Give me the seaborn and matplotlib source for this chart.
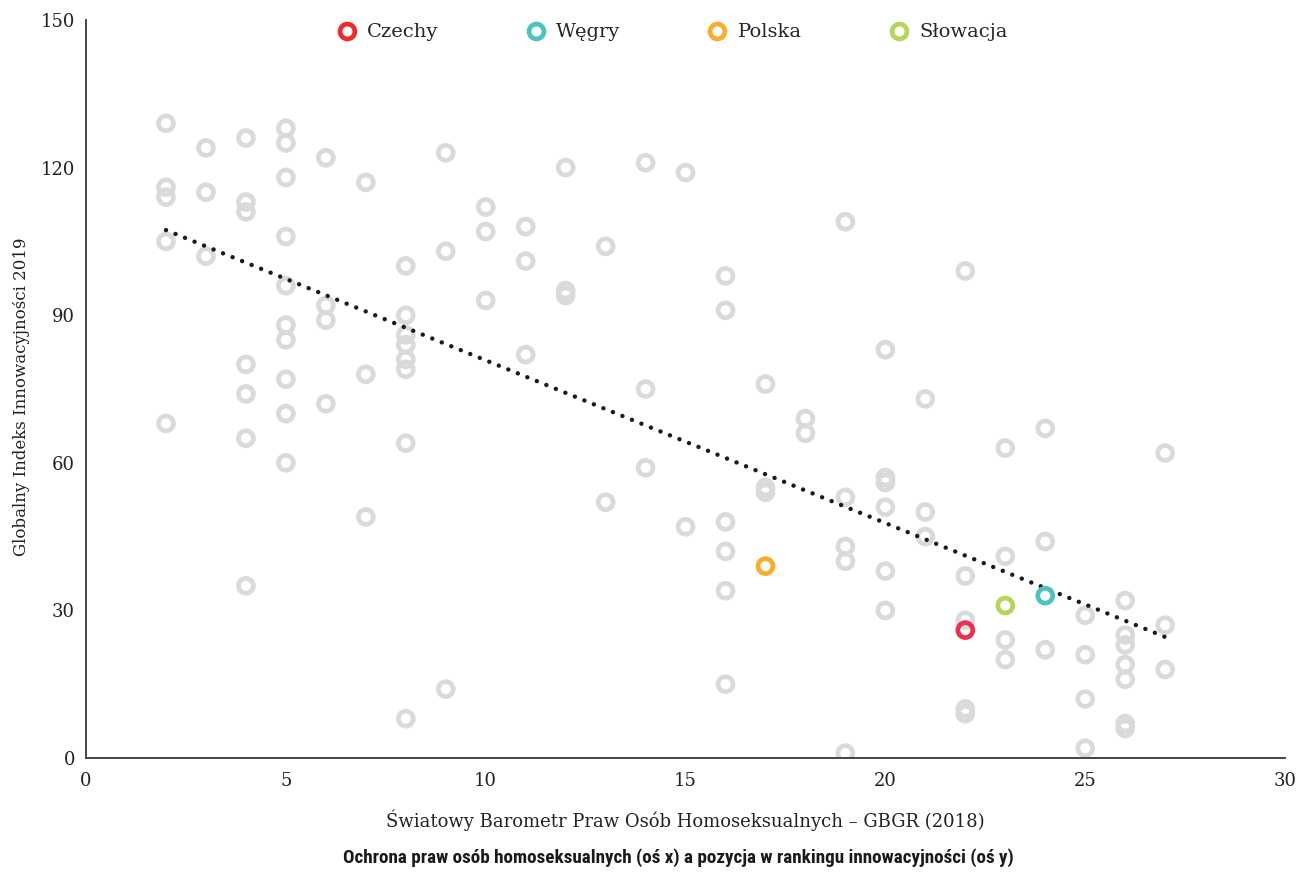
import numpy as np
import pandas as pd
import matplotlib
matplotlib.use("Agg")
import matplotlib.pyplot as plt
import seaborn as sns
from matplotlib.lines import Line2D

# dane
gbgr = ([2] * 5 + [3] * 3 + [4] * 7 + [5] * 10 + [6] * 4 + [7] * 3 + [8] * 8 + [9] * 3
        + [10] * 3 + [11] * 3 + [12] * 3 + [13] * 2 + [14] * 3 + [15] * 2 + [16] * 6
        + [17] * 3 + [18] * 2 + [19] * 5 + [20] * 6 + [21] * 3 + [22] * 5 + [23] * 4
        + [24] * 3 + [25] * 4 + [26] * 7 + [27] * 3)
gii = [129, 116, 114, 105, 68,
       124, 115, 102,
       126, 113, 111, 80, 74, 65, 35,
       128, 125, 118, 106, 96, 88, 85, 77, 70, 60,
       122, 92, 89, 72,
       117, 78, 49,
       100, 90, 86, 84, 81, 79, 64, 8,
       123, 103, 14,
       112, 107, 93,
       108, 101, 82,
       120, 95, 94,
       104, 52,
       121, 75, 59,
       119, 47,
       98, 91, 48, 42, 34, 15,
       76, 55, 54,
       69, 66,
       109, 53, 43, 40, 1,
       83, 57, 56, 51, 38, 30,
       73, 50, 45,
       99, 37, 28, 10, 9,
       63, 41, 24, 20,
       67, 44, 22,
       29, 21, 12, 2,
       32, 25, 23, 19, 16, 7, 6,
       62, 27, 18]

kraje = ["Czechy", "Węgry", "Polska", "Słowacja"]
kraje_x = [22, 24, 17, 23]
kraje_y = [26, 33, 39, 31]
kolory = ["#ec3052", "#4cc3c0", "#f9ad2f", "#b4d65a"]
kolory_leg = ["#ee2a2e", "#4cc3c0", "#f9ad2f", "#b4d65a"]

# linia trendu
trend_x = [2, 27]
trend_y = [107.3, 24.6]

df = pd.DataFrame({"x": gbgr, "y": gii})
df_trend = pd.DataFrame({"x": trend_x, "y": trend_y})

sns.set_theme(style="white")
plt.rcParams["font.family"] = ["DejaVu Serif"]

fig = plt.figure(figsize=(13, 8.73), dpi=100)
ax = fig.add_axes([0.0662, 0.1317, 0.9223, 0.8454])

ring = dict(s=115, facecolors="none", linewidths=3.4)
sns.scatterplot(data=df, x="x", y="y", ax=ax, edgecolor="#d9dadc", zorder=2, **ring)
sns.lineplot(data=df_trend, x="x", y="y", ax=ax, color="#1a1a1a", lw=3.2,
             linestyle=(0, (0.01, 2.3)), dash_capstyle="round", zorder=3)
for kx, ky, c in zip(kraje_x, kraje_y, kolory):
    ax.scatter([kx], [ky], edgecolors=c, zorder=4, **ring)

ax.set_xlim(0, 30)
ax.set_ylim(0, 150)
ax.set_xticks([0, 5, 10, 15, 20, 25, 30])
ax.set_yticks([0, 30, 60, 90, 120, 150])
ax.tick_params(axis="both", length=0, labelsize=13, colors="#222222")
ax.tick_params(axis="x", pad=10)
ax.tick_params(axis="y", pad=8)
sns.despine(ax=ax)
for sp in ["left", "bottom"]:
    ax.spines[sp].set_color("#444444")
    ax.spines[sp].set_linewidth(1.4)

ax.set_xlabel("Światowy Barometr Praw Osób Homoseksualnych – GBGR (2018)",
              fontsize=13, color="#222222")
ax.xaxis.set_label_coords(0.5, -0.07)
ax.set_ylabel("Globalny Indeks Innowacyjności 2019", fontsize=12, color="#222222")
ax.yaxis.set_label_coords(-0.047, 0.49)

handles = [Line2D([], [], marker="o", linestyle="none", markersize=10.7,
                  markerfacecolor="none", markeredgecolor=c, markeredgewidth=3.4)
           for c in kolory_leg]
ax.legend(handles, kraje, ncol=4, loc="upper center", bbox_to_anchor=(0.489, 1.019),
          frameon=False, fontsize=14, handletextpad=0.55, columnspacing=4.5,
          handlelength=1.0)

fig.text(0.522, 0.0172, "Ochrona praw osób homoseksualnych (oś x) a pozycja w rankingu innowacyjności (oś y)",
         ha="center", va="center", fontsize=13.8, fontweight="bold", color="#1a1a1a",
         family=["Roboto Condensed", "Roboto", "DejaVu Sans"])

fig.savefig("out.png", dpi=100)
